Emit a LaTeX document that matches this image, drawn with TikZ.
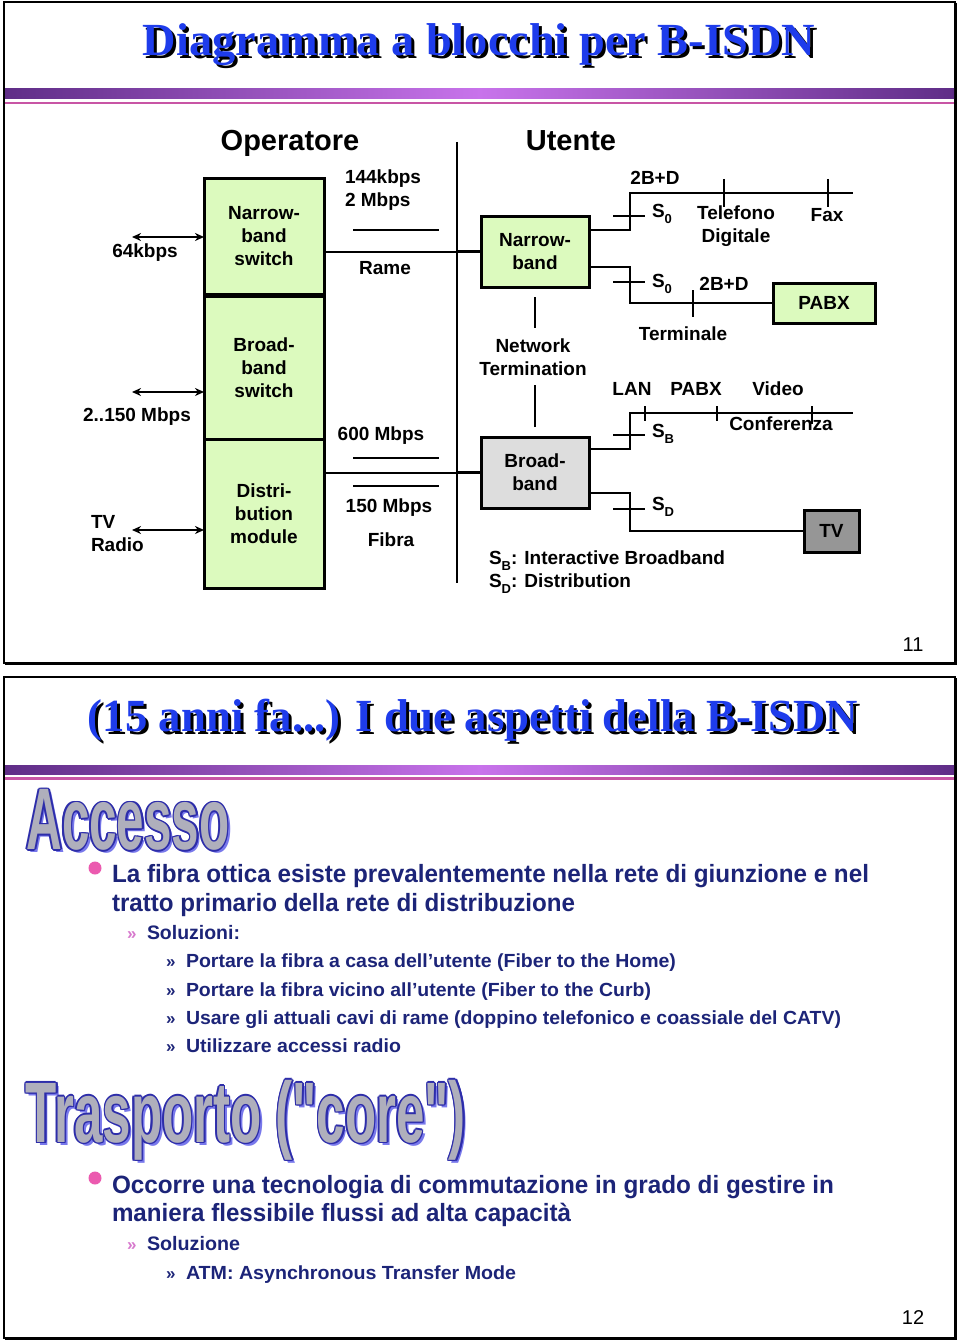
\documentclass[tikz,border=0pt]{standalone}
\usepackage{fontspec}
\usepackage{graphicx}
\setmainfont{Liberation Sans}
\newfontfamily\serifti{Liberation Serif}
\font\qbold="Liberation Sans/B" at 10pt
\usetikzlibrary{arrows.meta,calc}
\definecolor{titleblue}{RGB}{30,60,235}
\definecolor{navy}{RGB}{28,36,120}
\definecolor{pinkb}{RGB}{235,90,175}
\definecolor{pinkq}{RGB}{215,120,205}
\definecolor{outlineblue}{RGB}{45,45,170}
\definecolor{shadowblue}{RGB}{120,120,235}
\definecolor{grayfill}{RGB}{175,175,188}
\definecolor{barside}{RGB}{95,45,135}
\definecolor{barmid}{RGB}{200,115,235}
\definecolor{pinkline}{RGB}{200,85,165}
\definecolor{boxgreen}{RGB}{220,250,190}
\definecolor{boxgrey}{RGB}{221,221,221}
\definecolor{tvgrey}{RGB}{150,150,150}
\newcommand\Ssub[1]{S\raisebox{-0.3em}{\fontsize{13}{13}\selectfont #1}}
\newcommand\outlinetext[5]{%
  \node[text=shadowblue] at ($(#2)+(3,3)$) {\resizebox*{#3}{#4}{#5}};
  \foreach \a in {0,45,...,315}
    \node[text=outlineblue] at ($(#2)+(\a:1.6)$) {\resizebox*{#3}{#4}{#5}};
  \node[text=grayfill] (#1) at (#2) {\resizebox*{#3}{#4}{#5}};
}
\newcommand\slidetitle[4]{% name, pos, width, text
  \node[text=black] at ($(#2)+(3,3)$) {\serifti\bfseries\fontsize{46}{50}\selectfont\resizebox{#3}{\height}{#4}};
  \node[text=titleblue] (#1) at (#2) {\serifti\bfseries\fontsize{46}{50}\selectfont\resizebox{#3}{\height}{#4}};
}
\begin{document}
\begin{tikzpicture}[x=1pt,y=-1pt,
  every node/.style={inner sep=0pt, outer sep=0pt},
  lbl/.style={font=\bfseries\fontsize{19}{23}\selectfont, align=center},
  big/.style={font=\bfseries\fontsize{29}{34}\selectfont},
  sw/.style={draw, line width=3pt, fill=boxgreen, minimum width=120pt, lbl},
  ubox/.style={draw, line width=3pt, lbl},
  bus/.style={line width=2.5pt},
  tick/.style={line width=1.3pt},
  thinl/.style={line width=1.2pt},
  dbl/.style={line width=1.6pt, {Stealth[length=9pt,width=8pt]}-{Stealth[length=9pt,width=8pt]}},
  lvlone/.style={anchor=base west, text=navy, font=\bfseries\fontsize{25}{30}\selectfont},
  lvltwo/.style={anchor=base west, text=navy, font=\bfseries\fontsize{19.5}{24}\selectfont},
  lvlthree/.style={anchor=base west, text=navy, font=\bfseries\fontsize{19}{24}\selectfont},
  quo/.style={anchor=base west, font=\bfseries\fontsize{17}{20}\selectfont},
  pnum/.style={font=\fontsize{20}{24}\selectfont},
]
\useasboundingbox (0,0) rectangle (960,1343);
\fill[white] (0,0) rectangle (960,1343);

% ================= SLIDE 1 =================
\draw[line width=2pt] (4,2) rectangle (955,663);
\draw[line width=3pt] (955.5,3) -- (955.5,663.5) -- (5,663.5);
\slidetitle{t1}{479,45}{672pt}{Diagramma a blocchi per B-ISDN}
\shade[left color=barside, right color=barside, middle color=barmid] (5,89) rectangle (954,99);
\fill[pinkline] (5,102) rectangle (954,104.5);

\node[big] (oper) at (290,143) {Operatore};
\node[big] (uten) at (571,141) {Utente};

% operator switches
\node[sw, minimum height=115pt] (nbsw) at (264,236.5) {Narrow-\\band\\switch};
\node[sw, minimum height=143pt] (bbsw) at (264,367.5) {Broad-\\band\\switch};
\node[sw, minimum height=149pt] (dist) at (264,513.5) {Distri-\\bution\\module};

\coordinate (a1) at (132,237);
\coordinate (a2) at (132,392);
\coordinate (a3) at (132,530);
\draw[dbl] (a1) -- (nbsw.west |- a1);
\draw[dbl] (a2) -- (bbsw.west |- a2);
\draw[dbl] (a3) -- (dist.west |- a3);
\node[lbl] (l64) at (145,253) {64kbps};
\node[lbl] (l2150) at (137,417) {2..150 Mbps};
\node[lbl, align=left, anchor=west] (ltv) at (91,533.5) {TV\\Radio};

% boundary line
\coordinate (vt) at (457,142);
\coordinate (vb) at (457,583);
\draw[line width=2pt] (vt) -- (vb);
\coordinate (jr) at (457,252);
\coordinate (jf) at (457,473);
\draw[bus] (nbsw.east |- jr) -- (jr);
\draw[bus] (dist.east |- jf) -- (jf);

\node[lbl, align=left, anchor=west] (l144) at (345,190) {144kbps\\2 Mbps};
\coordinate (r1a) at (353,230); \coordinate (r1b) at (439,230);
\draw[thinl] (r1a) -- (r1b);
\node[lbl] (lrame) at (385,268) {Rame};
\node[lbl] (l600) at (381,436) {600 Mbps};
\coordinate (r2a) at (353,458); \coordinate (r2b) at (439,458);
\draw[thinl] (r2a) -- (r2b);
\coordinate (r3a) at (353,486); \coordinate (r3b) at (439,486);
\draw[thinl] (r3a) -- (r3b);
\node[lbl] (l150) at (389,508) {150 Mbps};
\node[lbl] (lfib) at (391,540) {Fibra};

% user side
\node[ubox, fill=boxgreen, minimum width=108pt, minimum height=71pt] (nb) at (535,251.5) {Narrow-\\band};
\node[ubox, fill=boxgrey, minimum width=108pt, minimum height=71pt] (bb) at (535,472.5) {Broad-\\band};
\node[ubox, fill=boxgreen, minimum width=102pt, minimum height=40pt] (pabx) at (824,303) {PABX};
\node[ubox, fill=tvgrey, minimum width=55pt, minimum height=42pt] (tv) at (831.5,531) {TV};

\coordinate (jn) at (457,251.5);
\coordinate (jb) at (457,472.5);
\draw[bus] (jn) -- (nb.west);
\draw[bus] (jb) -- (bb.west);

\draw[thinl] ($(nb.south)+(0,10)$) -- ($(nb.south)+(0,41)$);
\draw[thinl] ($(bb.north)+(0,-10)$) -- ($(bb.north)+(0,-52)$);
\node[lbl] (lnt) at (533,357.5) {Network\\Termination};

% narrowband upper bus
\coordinate (n1) at (630,230);
\coordinate (n1e) at (853,193);
\draw[bus] (nb.east |- n1) -- (n1) |- (n1e);
\coordinate (k1a) at (613,216); \coordinate (k1b) at (645,216);
\draw[tick] (k1a) -- (k1b);
\coordinate (k2a) at (724,179); \coordinate (k2b) at (724,207);
\draw[tick] (k2a) -- (k2b);
\coordinate (k3a) at (828,179); \coordinate (k3b) at (828,207);
\draw[tick] (k3a) -- (k3b);
\node[lbl] (l2bd1) at (655,178) {2B+D};
\node[lbl, anchor=west] (ls01) at (652,214) {\Ssub{0}};
\node[lbl] (ltel) at (736,226) {Telefono\\Digitale};
\node[lbl] (lfax) at (827,215) {Fax};

% narrowband lower bus
\coordinate (n2) at (630,267);
\draw[bus] (nb.east |- n2) -- (n2) |- (pabx.west);
\coordinate (k4a) at (613,282); \coordinate (k4b) at (645,282);
\draw[tick] (k4a) -- (k4b);
\coordinate (k5a) at (693,290); \coordinate (k5b) at (693,317);
\draw[tick] (k5a) -- (k5b);
\node[lbl, anchor=west] (ls02) at (652,284) {\Ssub{0}};
\node[lbl] (l2bd2) at (724,284) {2B+D};
\node[lbl] (lterm) at (683,334) {Terminale};

% broadband upper bus
\coordinate (b1) at (630,449);
\coordinate (b1e) at (853,413);
\draw[bus] (bb.east |- b1) -- (b1) |- (b1e);
\coordinate (k6a) at (613,435); \coordinate (k6b) at (645,435);
\draw[tick] (k6a) -- (k6b);
\coordinate (k7a) at (645,406); \coordinate (k7b) at (645,421);
\draw[tick] (k7a) -- (k7b);
\coordinate (k8a) at (717,406); \coordinate (k8b) at (717,421);
\draw[tick] (k8a) -- (k8b);
\coordinate (k9a) at (812,406); \coordinate (k9b) at (812,424);
\draw[tick] (k9a) -- (k9b);
\node[lbl] (llan) at (632,389) {LAN};
\node[lbl] (lpabx2) at (696,389) {PABX};
\node[lbl] (lvid) at (778,389) {Video};
\node[lbl] (lconf) at (781,424) {Conferenza};
\node[lbl, anchor=west] (lsb) at (652,434) {\Ssub{B}};

% broadband lower bus
\coordinate (b2) at (630,493);
\draw[bus] (bb.east |- b2) -- (b2) |- (tv.west);
\coordinate (k10a) at (613,509); \coordinate (k10b) at (645,509);
\draw[tick] (k10a) -- (k10b);
\node[lbl, anchor=west] (lsd) at (652,507) {\Ssub{D}};

\node[lbl, align=left, anchor=west] (legend) at (489,572) {\Ssub{B}: Interactive Broadband\\\Ssub{D}: Distribution};

\node[pnum] (p11) at (913,645) {11};

% ================= SLIDE 2 =================
\draw[line width=2pt] (4,677) rectangle (955,1338);
\draw[line width=3pt] (955.5,678) -- (955.5,1338.5) -- (5,1338.5);
\slidetitle{t2}{473,720}{770pt}{(15 anni fa...) I due aspetti della B-ISDN}
\shade[left color=barside, right color=barside, middle color=barmid] (5,765) rectangle (954,774);
\fill[pinkline] (5,777) rectangle (954,779.5);

\outlinetext{acc}{128,820}{203pt}{61pt}{\bfseries Accesso}

\fill[pinkb] (95,868) circle (6.5);
\node[lvlone] (s1) at (112,882) {\resizebox{757pt}{\height}{La fibra ottica esiste prevalentemente nella rete di giunzione e nel}};
\node[lvlone] (s2) at (112,911) {\resizebox{463pt}{\height}{tratto primario della rete di distribuzione}};
\node[quo, text=pinkq] (q1) at (127,939) {»};
\node[lvltwo] (s3) at (147,939) {\resizebox{93pt}{\height}{Soluzioni:}};
\node[quo, text=navy] (q2) at (166,967) {»};
\node[lvlthree] (s4) at (186,967) {\resizebox{490pt}{\height}{Portare la fibra a casa dell’utente (Fiber to the Home)}};
\node[quo, text=navy] (q3) at (166,996) {»};
\node[lvlthree] (s5) at (186,996) {\resizebox{465pt}{\height}{Portare la fibra vicino all’utente (Fiber to the Curb)}};
\node[quo, text=navy] (q4) at (166,1024) {»};
\node[lvlthree] (s6) at (186,1024) {\resizebox{655pt}{\height}{Usare gli attuali cavi di rame (doppino telefonico e coassiale del CATV)}};
\node[quo, text=navy] (q5) at (166,1052) {»};
\node[lvlthree] (s7) at (186,1052) {\resizebox{215pt}{\height}{Utilizzare accessi radio}};

\outlinetext{tra}{246,1120}{440pt}{80pt}{\bfseries Trasporto ({\qbold"}core{\qbold"})}

\fill[pinkb] (95,1178) circle (6.5);
\node[lvlone] (s8) at (112,1193) {\resizebox{722pt}{\height}{Occorre una tecnologia di commutazione in grado di gestire in}};
\node[lvlone] (s9) at (112,1221) {\resizebox{459pt}{\height}{maniera flessibile flussi ad alta capacità}};
\node[quo, text=pinkq] (q6) at (127,1250) {»};
\node[lvltwo] (s10) at (147,1250) {\resizebox{93pt}{\height}{Soluzione}};
\node[quo, text=navy] (q7) at (166,1279) {»};
\node[lvlthree] (s11) at (186,1279) {\resizebox{330pt}{\height}{ATM: Asynchronous Transfer Mode}};

\node[pnum] (p12) at (913,1318) {12};
\end{tikzpicture}
\end{document}
